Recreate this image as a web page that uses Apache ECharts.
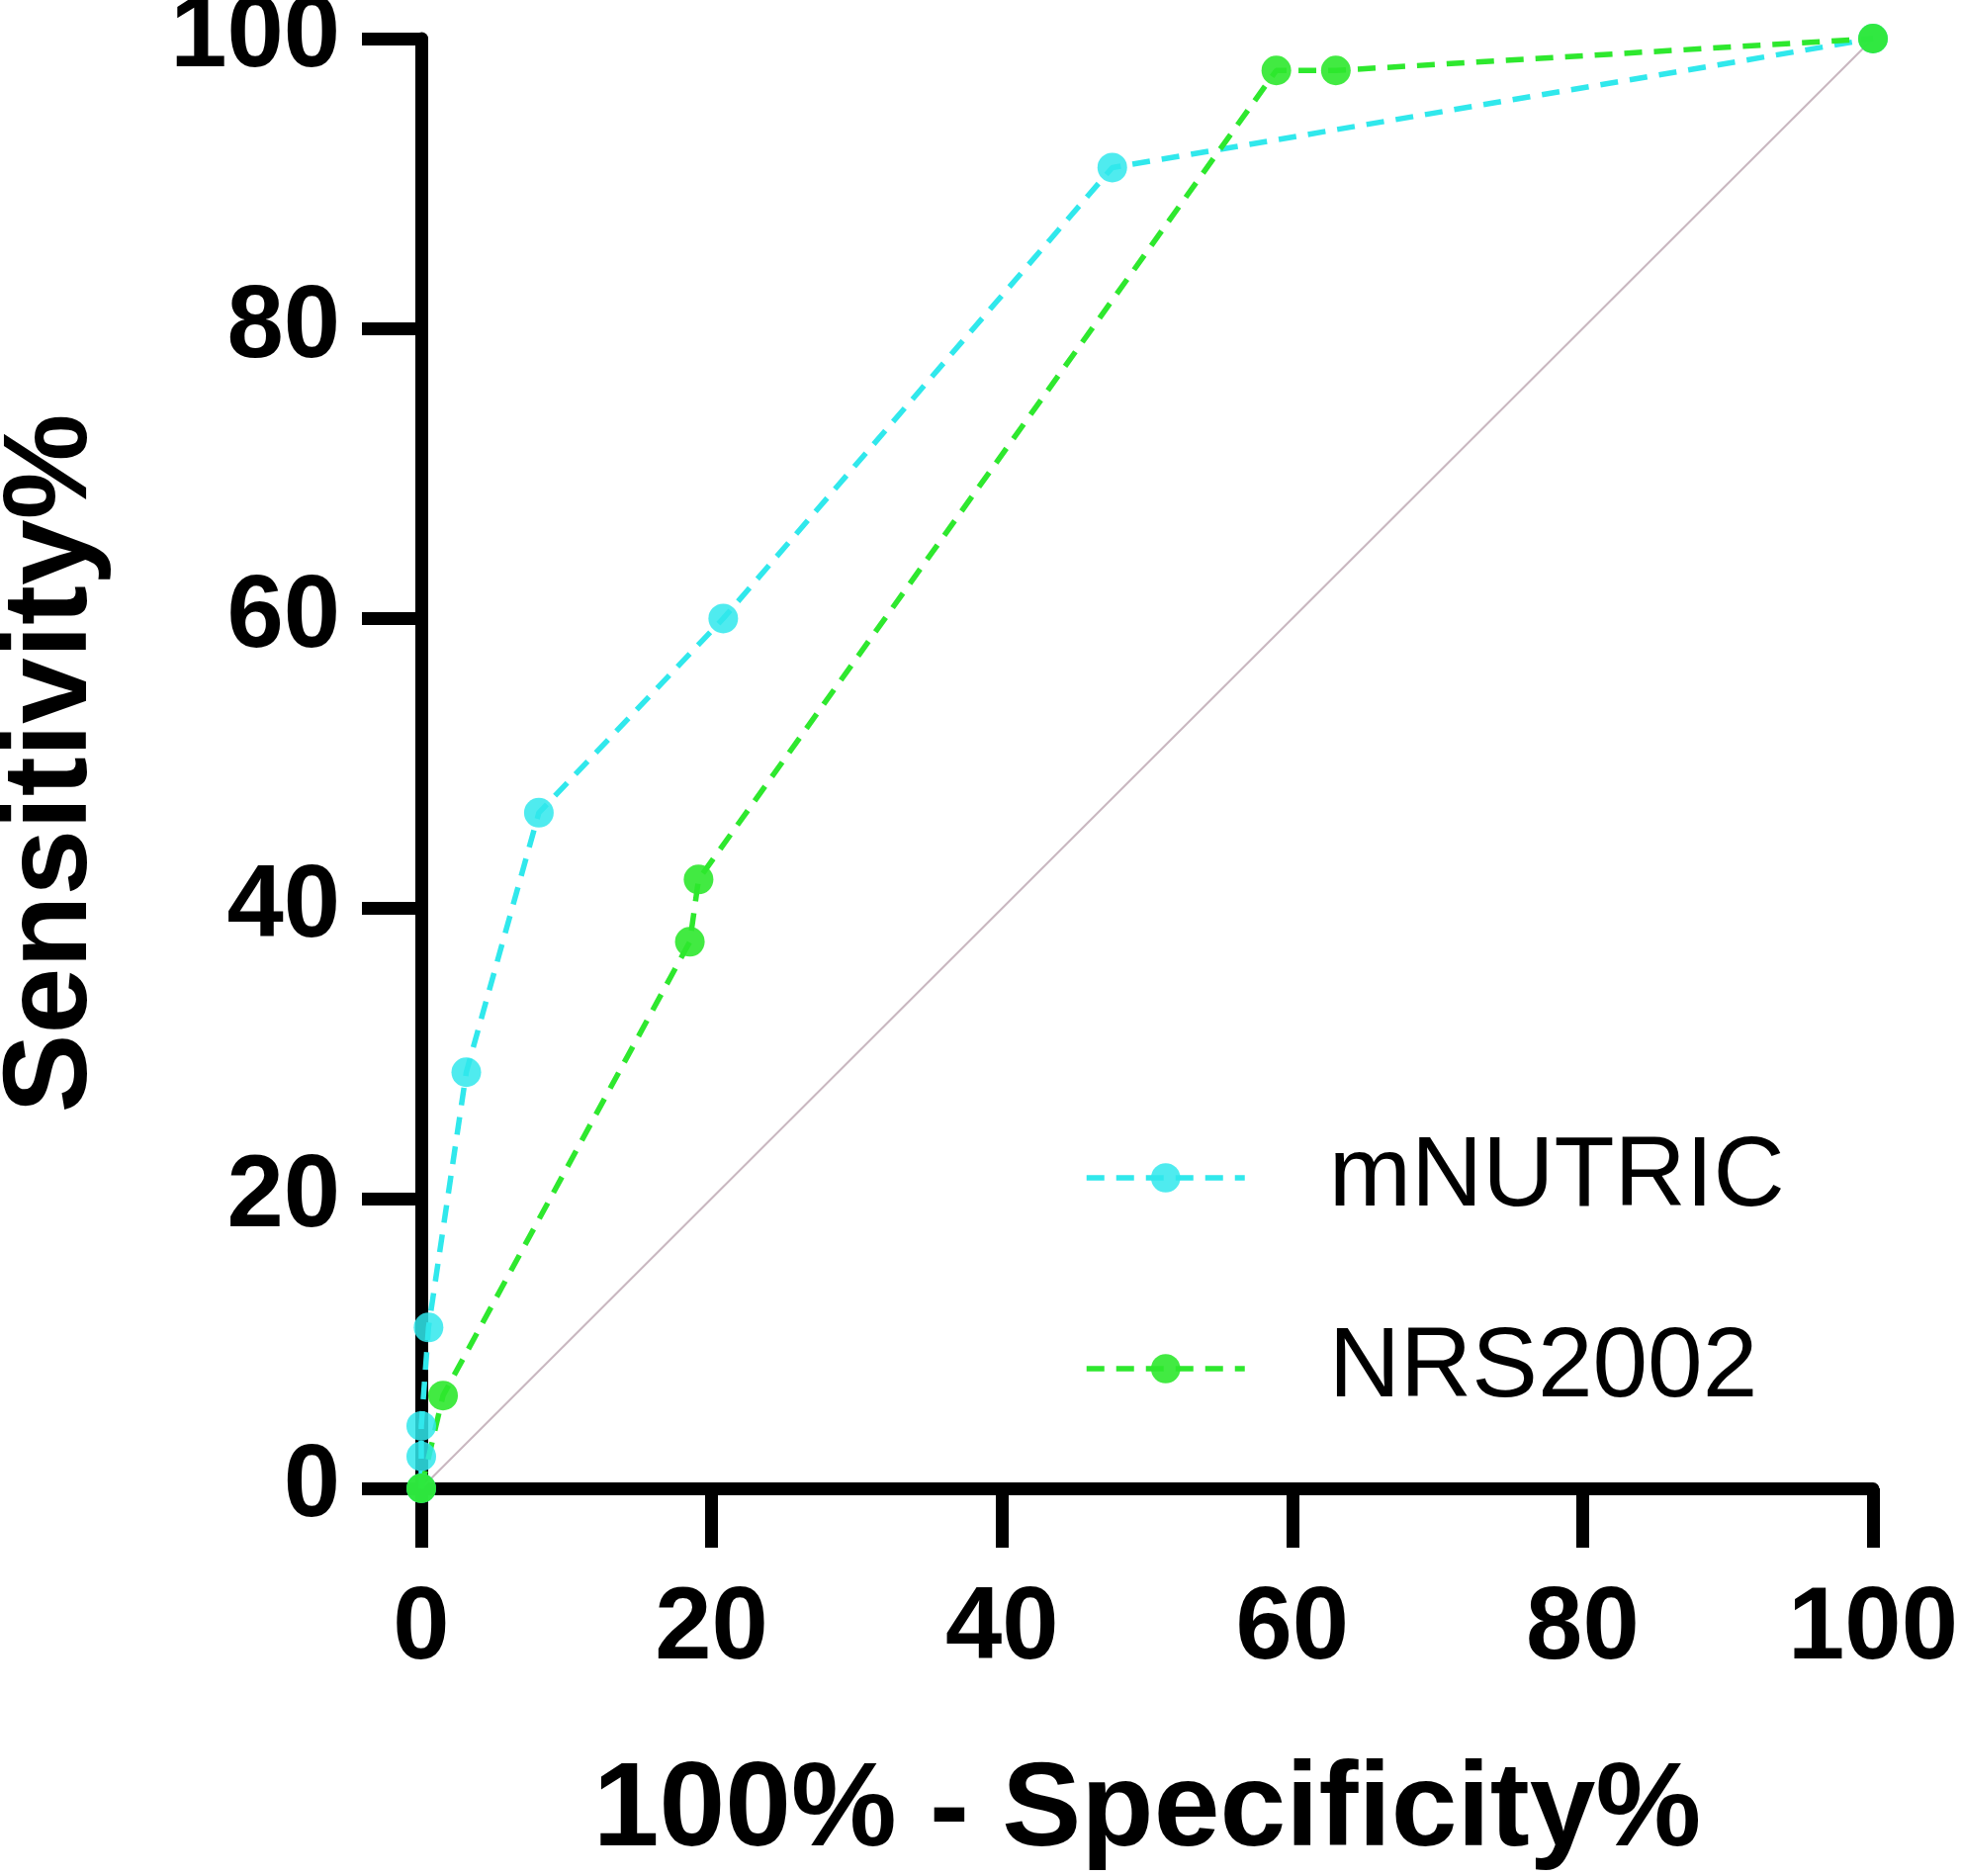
<!DOCTYPE html>
<html>
<head>
<meta charset="utf-8">
<script src="https://cdn.jsdelivr.net/npm/echarts@6/dist/echarts.min.js"></script>
<style>
  html, body { margin: 0; padding: 0; background: #fff; }
  #chart { width: 1983px; height: 1897px; }
</style>
</head>
<body>
<div id="chart"></div>
<script>
let chart = echarts.init(document.querySelector('#chart'));

// 数据：ROC 曲线上的点 (100% - Specificity%, Sensitivity%)
let mnutricX = [0, 0, 0, 0.5, 3.1, 8.1, 20.8, 47.6, 100];
let mnutricY = [0, 2.2, 4.3, 11.1, 28.7, 46.6, 60, 91.1, 100];
let nrsX = [0, 1.5, 18.5, 19.1, 58.9, 63, 100];
let nrsY = [0, 6.4, 37.7, 42, 97.8, 97.8, 100];
let diagX = [0, 100];
let diagY = [0, 100];
let tickValues = [0, 20, 40, 60, 80, 100];
let seriesNames = ['mNUTRIC', 'NRS2002'];

let font = '"Liberation Sans", Arial, sans-serif';
let cyan = '#30E8EC';
let green = '#2EE82E';
let dash = [18, 12];

function pairs(xs, ys) {
  let out = [];
  for (let i = 0; i < xs.length; i++) {
    out.push([xs[i], ys[i]]);
  }
  return out;
}

function axisCommon() {
  return {
    type: 'value',
    min: tickValues[0],
    max: tickValues[tickValues.length - 1],
    interval: tickValues[1] - tickValues[0],
    splitLine: { show: false },
    axisLine: { show: true, onZero: false, lineStyle: { color: '#000', width: 13 } },
    axisTick: { show: true, inside: false, length: 60, lineStyle: { color: '#000', width: 13 } },
    nameLocation: 'middle',
    nameTextStyle: { color: '#000', fontFamily: font, fontWeight: 'bold', fontSize: 120 }
  };
}

let xAxis = axisCommon();
xAxis.name = '100% - Specificity%';
xAxis.nameGap = 268;
xAxis.axisLabel = { color: '#000', fontFamily: font, fontWeight: 'bold', fontSize: 103, margin: 92 };

let yAxis = axisCommon();
yAxis.name = 'Sensitivity%';
yAxis.nameGap = 312;
yAxis.axisLabel = { color: '#000', fontFamily: font, fontWeight: 'bold', fontSize: 103, margin: 82 };

let option = {
  animation: false,
  backgroundColor: '#fff',
  grid: { left: 426, right: 89, top: 39, bottom: 392, containLabel: false, outerBoundsMode: 'none' },
  xAxis: xAxis,
  yAxis: yAxis,
  legend: {
    data: seriesNames,
    orient: 'vertical',
    left: 1096,
    top: 1141,
    padding: 0,
    itemWidth: 160,
    itemHeight: 37,
    itemGap: 93,
    lineStyle: { width: 5.5 },
    textStyle: { color: '#000', fontFamily: font, fontSize: 100, lineHeight: 100, padding: [0, 0, 0, 80] }
  },
  series: [
    {
      name: 'diagonal',
      type: 'line',
      data: pairs(diagX, diagY),
      showSymbol: false,
      silent: true,
      lineStyle: { color: '#C9B7C0', width: 2 }
    },
    {
      name: seriesNames[0],
      type: 'line',
      data: pairs(mnutricX, mnutricY),
      symbol: 'circle',
      symbolSize: 30,
      itemStyle: { color: cyan, opacity: 0.85 },
      lineStyle: { color: cyan, width: 5.5, type: dash }
    },
    {
      name: seriesNames[1],
      type: 'line',
      data: pairs(nrsX, nrsY),
      symbol: 'circle',
      symbolSize: 30,
      itemStyle: { color: green, opacity: 0.9 },
      lineStyle: { color: green, width: 5.5, type: dash }
    }
  ]
};

chart.setOption(option);
</script>
</body>
</html>
